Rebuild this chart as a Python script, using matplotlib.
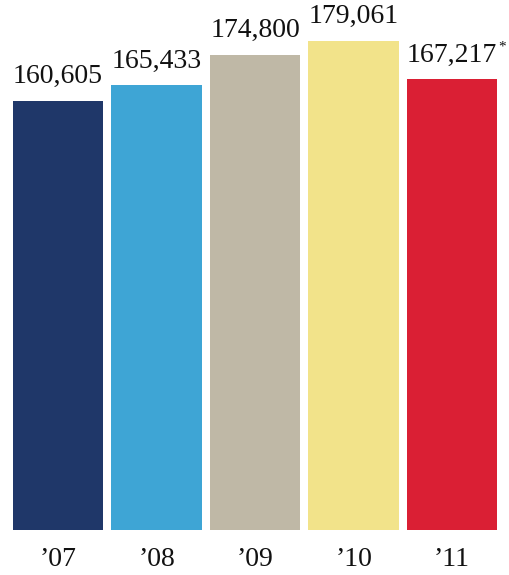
import matplotlib
matplotlib.use("Agg")
from matplotlib import pyplot as plt

years = ["\u201907", "\u201908", "\u201909", "\u201910", "\u201911"]
values = [160605, 165433, 174800, 179061, 167217]
labels = ["160,605", "165,433", "174,800", "179,061", "167,217"]
colors = ["#1F3769", "#3EA5D5", "#BFB8A6", "#F2E38A", "#DA1F34"]

plt.rcParams['font.family'] = ['Liberation Serif', 'DejaVu Serif']

fig = plt.figure(figsize=(5.09, 5.75), dpi=100)
ax = fig.add_axes([8.75 / 509, 45 / 575, 492.5 / 509, 530 / 575])

x = list(range(len(values)))
bars = ax.bar(x, values, width=0.914, color=colors)
ax.set_xlim(-0.5, 4.5)
ax.set_ylim(29840, 191420)

for i, (v, lab) in enumerate(zip(values, labels)):
    ax.annotate(lab, (i, v), xytext=(0, 8.5), textcoords="offset points",
                ha="center", va="bottom", fontsize=20, color="#111111")

# asterisk on the last value
ax.annotate("*", (4, values[4]), xytext=(33.5, 28), textcoords="offset points",
            ha="left", va="top", fontsize=11, color="#111111")

ax.set_xticks(x)
ax.set_xticklabels(years, fontsize=20, color="#111111")
ax.tick_params(axis="x", length=0, pad=12.5)
ax.set_yticks([])
for s in ax.spines.values():
    s.set_visible(False)

fig.savefig("out.png", dpi=100)
